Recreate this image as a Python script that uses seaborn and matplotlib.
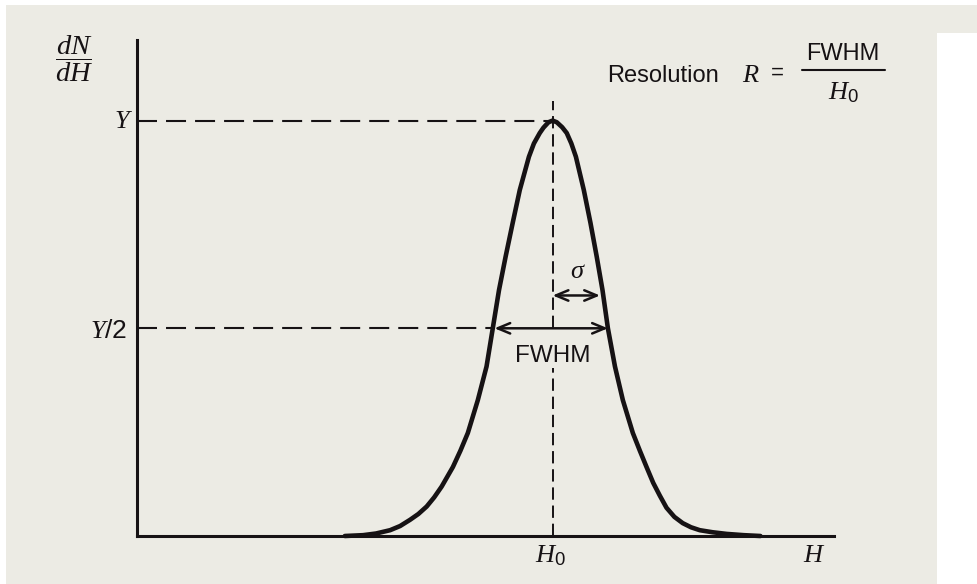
import numpy as np
import pandas as pd
import matplotlib
matplotlib.use("Agg")
import matplotlib.pyplot as plt
import seaborn as sns
from matplotlib.patches import Rectangle

# ---- data (H in channel units, dN/dH normalised so that Y = 1)
H = [50.0, 54.4, 57.5, 60.9, 63.3, 65.7, 67.7, 69.7, 71.5, 73.3, 76.0, 77.8,
     79.6, 82.0, 84.1, 85.6, 87.1, 88.7, 90.4, 92.1, 94.3, 95.5, 96.9, 97.8,
     99.0, 100.0, 101.0, 102.3, 103.4, 104.5, 105.6, 107.5, 109.1, 110.6,
     112.0, 113.3, 115.0, 116.9, 119.3, 121.0, 122.6, 124.2, 125.8, 127.4,
     129.3, 131.3, 133.3, 135.4, 138.5, 141.9, 146.0, 150.0]
dNdH = [0.0, 0.002, 0.006, 0.014, 0.024, 0.039, 0.053, 0.071, 0.093, 0.119,
        0.166, 0.205, 0.248, 0.327, 0.408, 0.500, 0.592, 0.673, 0.754, 0.833,
        0.913, 0.945, 0.970, 0.983, 0.996, 1.0, 0.996, 0.984, 0.970, 0.945,
        0.913, 0.833, 0.754, 0.673, 0.592, 0.500, 0.408, 0.327, 0.248, 0.205,
        0.166, 0.128, 0.097, 0.068, 0.046, 0.031, 0.021, 0.014, 0.009, 0.005,
        0.002, 0.0]

H0 = 100.0            # peak position
Y_PEAK = 1.0          # peak height Y
FWHM_EDGES = [86.0, 113.3]   # half-maximum crossings
SIGMA = 11.4
X_MAX = 167.7
Y_MAX = 1.194

df = pd.DataFrame({"H": H, "dNdH": dNdH})

sns.set_theme(style="white")
plt.rcParams["font.family"] = ["Liberation Sans", "DejaVu Sans"]
plt.rcParams["mathtext.fontset"] = "custom"
plt.rcParams["mathtext.it"] = "Liberation Serif:italic"
plt.rcParams["mathtext.rm"] = "Liberation Sans"
plt.rcParams["mathtext.bf"] = "Liberation Serif:bold"

INK = "#161214"
PAPER = "#ecebe4"

fig = plt.figure(figsize=(9.77, 5.84), dpi=100, facecolor="white")
# paper background of the scan
fig.patches.append(Rectangle((6 / 977, 0), 1, 1 - 5 / 584, transform=fig.transFigure,
                             facecolor=PAPER, edgecolor="none", zorder=-10))
fig.patches.append(Rectangle((937 / 977, 0), 1, 1 - 33 / 584, transform=fig.transFigure,
                             facecolor="white", edgecolor="none", zorder=-9))

ax = fig.add_axes([137 / 977, 48 / 584, 697 / 977, 496 / 584])
ax.set_facecolor("none")
ax.set_xlim(0, X_MAX)
ax.set_ylim(0, Y_MAX)
for s in ["top", "right"]:
    ax.spines[s].set_visible(False)
for s in ["left", "bottom"]:
    ax.spines[s].set_linewidth(2.2)
    ax.spines[s].set_color(INK)
    ax.spines[s].set_capstyle("projecting")
ax.set_xticks([])
ax.set_yticks([])

# Gaussian peak
sns.lineplot(data=df, x="H", y="dNdH", estimator=None, sort=False, color=INK,
             linewidth=3.3, ax=ax, clip_on=False, zorder=5)
ax.lines[-1].set_solid_capstyle("round")
ax.lines[-1].set_solid_joinstyle("round")
ax.set_xlabel("")
ax.set_ylabel("")

# dashed guides
hdash = (0, (14.4 / 1.5, 6.5 / 1.5))
vdash = (0, (9.5 / 1.5, 4.5 / 1.5))
ax.plot([0, H0], [Y_PEAK, Y_PEAK], color=INK, lw=1.5, ls=hdash, clip_on=False)
ax.plot([0, FWHM_EDGES[0]], [Y_PEAK / 2, Y_PEAK / 2], color=INK, lw=1.5, ls=hdash, clip_on=False)
ax.plot([H0, H0], [Y_PEAK / 2, 1.047], color=INK, lw=1.4, ls=vdash, clip_on=False)
ax.plot([H0, H0], [0, 0.405], color=INK, lw=1.4, ls=vdash, clip_on=False)

# arrows
arr = dict(arrowstyle="<->,head_length=0.6,head_width=0.25", lw=1.8, color=INK,
           shrinkA=0, shrinkB=0, mutation_scale=15)
ax.annotate("", xy=(FWHM_EDGES[0], Y_PEAK / 2), xytext=(FWHM_EDGES[1], Y_PEAK / 2),
            arrowprops=arr, annotation_clip=False)
ax.annotate("", xy=(H0, 0.579), xytext=(H0 + SIGMA, 0.579),
            arrowprops=arr, annotation_clip=False)

serif = dict(family="Liberation Serif", style="italic", color=INK)
ax.text(100.1, 0.419, "FWHM", fontsize=17.5, ha="center", va="baseline", color=INK)
ax.text(105.8, 0.621, "σ", fontsize=19, ha="center", va="baseline", **serif)

# axis labels
ax.text(-1.9, 0.997, "Y", fontsize=19, ha="right", va="center", **serif)
ax.text(-2.3, 0.494, r"$Y/\mathrm{2}$", fontsize=19, ha="right", va="center", color=INK)
ax.text(-15.2, 1.150, r"$\dfrac{dN}{dH}$", fontsize=20.5, ha="center", va="center", color=INK)
ax.text(99.6, -0.0626, r"$H_{\mathrm{0}}$", fontsize=19, ha="center", va="baseline", color=INK)
ax.text(162.6, -0.0626, "H", fontsize=19, ha="center", va="baseline", **serif)

# resolution formula
ax.text(113.1, 1.093, "Resolution", fontsize=17, ha="left", va="baseline", color=INK)
ax.text(145.5, 1.093, "R", fontsize=19, ha="left", va="baseline", **serif)
ax.text(154.0, 1.115, "=", fontsize=16, ha="center", va="center", color=INK)
ax.text(169.8, 1.146, "FWHM", fontsize=17, ha="center", va="baseline", color=INK)
ax.plot([160.0, 179.9], [1.122, 1.122], color=INK, lw=1.5, clip_on=False)
ax.text(170.1, 1.05, r"$H_{\mathrm{0}}$", fontsize=19, ha="center", va="baseline", color=INK)

fig.savefig("out.png", dpi=100, facecolor=fig.get_facecolor())
